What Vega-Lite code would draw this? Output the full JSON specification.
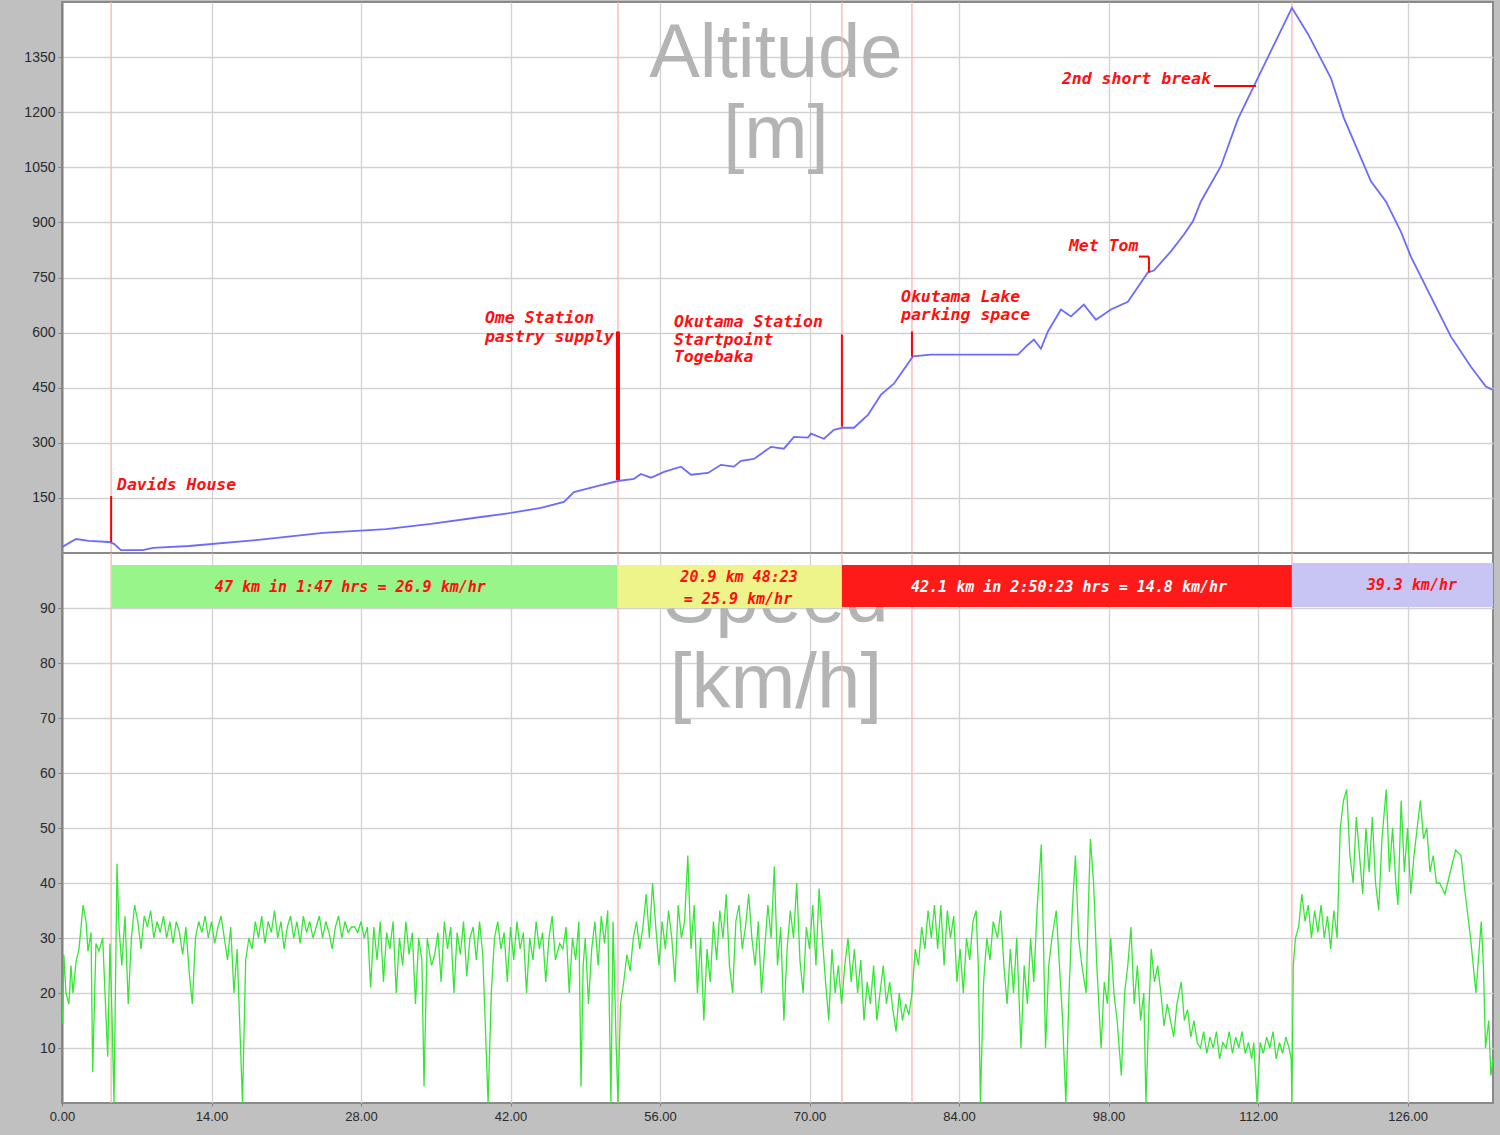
{
  "$schema": "https://vega.github.io/schema/vega-lite/v6.json",
  "background": "#c0c0c0",
  "padding": {"left": 0, "top": 0, "right": 8, "bottom": 0},
  "spacing": 0,
  "bounds": "flush",
  "config": {
    "view": {"fill": "#ffffff", "stroke": "#8a8a8a", "strokeWidth": 2},
    "axis": {"gridColor": "#d2d2d2", "gridWidth": 1.3, "gridOpacity": 1, "domainColor": "#808080", "domainWidth": 2, "tickColor": "#808080", "labelColor": "#2a2a2a", "labelFont": "Liberation Sans", "labelFlush": false, "title": null}
  },
  "datasets": {
    "alt": [
      {"km": 0, "alt": 16}, {"km": 1.31, "alt": 38}, {"km": 2.53, "alt": 33}, {"km": 4.4, "alt": 30}, {"km": 4.87, "alt": 25},
      {"km": 5.52, "alt": 8}, {"km": 7.58, "alt": 8}, {"km": 8.52, "alt": 14}, {"km": 11.89, "alt": 19}, {"km": 18.16, "alt": 35},
      {"km": 24.44, "alt": 55}, {"km": 30.34, "alt": 65}, {"km": 34.55, "alt": 79}, {"km": 39.23, "alt": 98}, {"km": 42.04, "alt": 109},
      {"km": 44.85, "alt": 123}, {"km": 47.0, "alt": 139}, {"km": 47.94, "alt": 166}, {"km": 50.19, "alt": 183}, {"km": 52.06, "alt": 196},
      {"km": 53.56, "alt": 202}, {"km": 54.21, "alt": 215}, {"km": 55.15, "alt": 205}, {"km": 56.37, "alt": 221}, {"km": 57.96, "alt": 235},
      {"km": 58.9, "alt": 213}, {"km": 60.49, "alt": 218}, {"km": 61.7, "alt": 240}, {"km": 62.92, "alt": 235}, {"km": 63.58, "alt": 251},
      {"km": 64.79, "alt": 256}, {"km": 66.39, "alt": 289}, {"km": 67.6, "alt": 284}, {"km": 68.54, "alt": 316}, {"km": 69.85, "alt": 314},
      {"km": 70.13, "alt": 325}, {"km": 71.35, "alt": 311}, {"km": 72.28, "alt": 335}, {"km": 73.13, "alt": 341}, {"km": 74.16, "alt": 341},
      {"km": 75.47, "alt": 376}, {"km": 76.69, "alt": 431}, {"km": 77.9, "alt": 461}, {"km": 79.68, "alt": 535}, {"km": 81.37, "alt": 540},
      {"km": 89.51, "alt": 540}, {"km": 90.45, "alt": 567}, {"km": 91.01, "alt": 581}, {"km": 91.67, "alt": 556}, {"km": 92.32, "alt": 603},
      {"km": 93.54, "alt": 663}, {"km": 94.48, "alt": 644}, {"km": 95.69, "alt": 676}, {"km": 96.82, "alt": 635}, {"km": 98.22, "alt": 663},
      {"km": 99.81, "alt": 684}, {"km": 101.69, "alt": 764}, {"km": 102.25, "alt": 769}, {"km": 103.84, "alt": 821}, {"km": 105.06, "alt": 867},
      {"km": 105.9, "alt": 903}, {"km": 106.65, "alt": 957}, {"km": 108.52, "alt": 1053}, {"km": 110.11, "alt": 1181}, {"km": 111.61, "alt": 1271},
      {"km": 113.2, "alt": 1366}, {"km": 115.17, "alt": 1484}, {"km": 116.67, "alt": 1413}, {"km": 118.82, "alt": 1293}, {"km": 120.04, "alt": 1184},
      {"km": 122.57, "alt": 1012}, {"km": 123.97, "alt": 957}, {"km": 125.37, "alt": 875}, {"km": 126.31, "alt": 807}, {"km": 128.18, "alt": 698},
      {"km": 130.06, "alt": 589}, {"km": 131.93, "alt": 507}, {"km": 133.33, "alt": 453}, {"km": 133.99, "alt": 444}
    ],
    "speed": [
      {"km": 0.07, "speed": 14.5}, {"km": 0.17, "speed": 27}, {"km": 0.37, "speed": 20}, {"km": 0.65, "speed": 18}, {"km": 0.84, "speed": 25},
      {"km": 1.03, "speed": 20}, {"km": 1.31, "speed": 25.6}, {"km": 1.59, "speed": 28}, {"km": 1.97, "speed": 36}, {"km": 2.25, "speed": 33},
      {"km": 2.43, "speed": 27.6}, {"km": 2.72, "speed": 31}, {"km": 2.87, "speed": 5.6}, {"km": 3.18, "speed": 29}, {"km": 3.46, "speed": 27.6},
      {"km": 3.81, "speed": 30}, {"km": 4.28, "speed": 8.4}, {"km": 4.49, "speed": 29}, {"km": 4.68, "speed": 16}, {"km": 4.87, "speed": 0},
      {"km": 5.15, "speed": 43.5}, {"km": 5.34, "speed": 32}, {"km": 5.6, "speed": 25}, {"km": 5.9, "speed": 34}, {"km": 6.2, "speed": 18},
      {"km": 6.5, "speed": 30}, {"km": 6.8, "speed": 36}, {"km": 7.1, "speed": 33}, {"km": 7.4, "speed": 28}, {"km": 7.7, "speed": 34},
      {"km": 8.0, "speed": 32}, {"km": 8.3, "speed": 35}, {"km": 8.6, "speed": 30}, {"km": 8.9, "speed": 33}, {"km": 9.2, "speed": 31},
      {"km": 9.5, "speed": 34}, {"km": 9.8, "speed": 30}, {"km": 10.1, "speed": 33}, {"km": 10.4, "speed": 29}, {"km": 10.7, "speed": 33},
      {"km": 11.0, "speed": 31}, {"km": 11.3, "speed": 27}, {"km": 11.6, "speed": 32}, {"km": 11.9, "speed": 24}, {"km": 12.2, "speed": 18},
      {"km": 12.5, "speed": 30}, {"km": 12.8, "speed": 33}, {"km": 13.1, "speed": 31}, {"km": 13.4, "speed": 34}, {"km": 13.7, "speed": 30},
      {"km": 14.0, "speed": 33}, {"km": 14.3, "speed": 29}, {"km": 14.6, "speed": 32}, {"km": 14.9, "speed": 34}, {"km": 15.2, "speed": 30},
      {"km": 15.5, "speed": 26}, {"km": 15.8, "speed": 32}, {"km": 16.1, "speed": 20}, {"km": 16.4, "speed": 28}, {"km": 16.9, "speed": 0},
      {"km": 17.2, "speed": 26}, {"km": 17.5, "speed": 30}, {"km": 17.8, "speed": 28}, {"km": 18.1, "speed": 33}, {"km": 18.4, "speed": 30},
      {"km": 18.7, "speed": 34}, {"km": 19.0, "speed": 29}, {"km": 19.3, "speed": 33}, {"km": 19.6, "speed": 31}, {"km": 19.9, "speed": 35},
      {"km": 20.2, "speed": 30}, {"km": 20.5, "speed": 33}, {"km": 20.8, "speed": 28}, {"km": 21.1, "speed": 32}, {"km": 21.4, "speed": 34},
      {"km": 21.7, "speed": 30}, {"km": 22.0, "speed": 33}, {"km": 22.3, "speed": 29}, {"km": 22.6, "speed": 34}, {"km": 22.9, "speed": 31},
      {"km": 23.2, "speed": 33}, {"km": 23.5, "speed": 30}, {"km": 23.8, "speed": 32}, {"km": 24.1, "speed": 34}, {"km": 24.4, "speed": 30},
      {"km": 24.7, "speed": 33}, {"km": 25.0, "speed": 31}, {"km": 25.3, "speed": 28}, {"km": 25.6, "speed": 32}, {"km": 25.9, "speed": 34},
      {"km": 26.2, "speed": 30}, {"km": 26.5, "speed": 33}, {"km": 26.8, "speed": 31}, {"km": 27.1, "speed": 32}, {"km": 27.4, "speed": 32},
      {"km": 27.7, "speed": 31}, {"km": 28.0, "speed": 33}, {"km": 28.3, "speed": 30}, {"km": 28.6, "speed": 32}, {"km": 28.9, "speed": 21},
      {"km": 29.2, "speed": 32}, {"km": 29.5, "speed": 26}, {"km": 29.8, "speed": 33}, {"km": 30.1, "speed": 22}, {"km": 30.4, "speed": 31},
      {"km": 30.7, "speed": 28}, {"km": 31.0, "speed": 33}, {"km": 31.3, "speed": 20}, {"km": 31.6, "speed": 30}, {"km": 31.9, "speed": 25},
      {"km": 32.2, "speed": 33}, {"km": 32.5, "speed": 27}, {"km": 32.8, "speed": 31}, {"km": 33.1, "speed": 18}, {"km": 33.4, "speed": 30},
      {"km": 33.7, "speed": 26}, {"km": 33.9, "speed": 3}, {"km": 34.2, "speed": 30}, {"km": 34.6, "speed": 25}, {"km": 34.9, "speed": 27},
      {"km": 35.2, "speed": 31}, {"km": 35.5, "speed": 22}, {"km": 35.8, "speed": 33}, {"km": 36.1, "speed": 28}, {"km": 36.4, "speed": 32},
      {"km": 36.7, "speed": 20}, {"km": 37.0, "speed": 31}, {"km": 37.3, "speed": 27}, {"km": 37.6, "speed": 33}, {"km": 37.9, "speed": 23},
      {"km": 38.2, "speed": 30}, {"km": 38.5, "speed": 32}, {"km": 38.8, "speed": 26}, {"km": 39.1, "speed": 33}, {"km": 39.4, "speed": 27},
      {"km": 39.9, "speed": 0}, {"km": 40.2, "speed": 20}, {"km": 40.5, "speed": 30}, {"km": 40.8, "speed": 33}, {"km": 41.1, "speed": 28},
      {"km": 41.4, "speed": 31}, {"km": 41.7, "speed": 22}, {"km": 42.0, "speed": 32}, {"km": 42.3, "speed": 26}, {"km": 42.6, "speed": 33},
      {"km": 42.9, "speed": 28}, {"km": 43.2, "speed": 31}, {"km": 43.5, "speed": 20}, {"km": 43.8, "speed": 30}, {"km": 44.1, "speed": 26},
      {"km": 44.4, "speed": 33}, {"km": 44.7, "speed": 28}, {"km": 45.0, "speed": 31}, {"km": 45.3, "speed": 22}, {"km": 45.6, "speed": 30},
      {"km": 45.9, "speed": 34}, {"km": 46.2, "speed": 26}, {"km": 46.6, "speed": 29}, {"km": 46.9, "speed": 28}, {"km": 47.2, "speed": 32},
      {"km": 47.5, "speed": 20}, {"km": 47.8, "speed": 30}, {"km": 48.1, "speed": 26}, {"km": 48.4, "speed": 33}, {"km": 48.6, "speed": 3},
      {"km": 48.8, "speed": 25}, {"km": 49.0, "speed": 30}, {"km": 49.3, "speed": 18}, {"km": 49.6, "speed": 28}, {"km": 49.9, "speed": 33},
      {"km": 50.2, "speed": 25}, {"km": 50.5, "speed": 34}, {"km": 50.8, "speed": 29}, {"km": 51.1, "speed": 35}, {"km": 51.4, "speed": 0},
      {"km": 51.6, "speed": 33}, {"km": 51.9, "speed": 10}, {"km": 52.06, "speed": 0},
      {"km": 52.3, "speed": 18}, {"km": 52.6, "speed": 22}, {"km": 52.9, "speed": 27}, {"km": 53.2, "speed": 24}, {"km": 53.5, "speed": 30},
      {"km": 53.8, "speed": 33}, {"km": 54.1, "speed": 28}, {"km": 54.4, "speed": 32}, {"km": 54.7, "speed": 38}, {"km": 55.0, "speed": 30},
      {"km": 55.3, "speed": 40}, {"km": 55.6, "speed": 32}, {"km": 55.9, "speed": 25}, {"km": 56.2, "speed": 33}, {"km": 56.5, "speed": 28},
      {"km": 56.8, "speed": 35}, {"km": 57.1, "speed": 30}, {"km": 57.4, "speed": 22}, {"km": 57.7, "speed": 36}, {"km": 58.0, "speed": 30},
      {"km": 58.3, "speed": 33}, {"km": 58.6, "speed": 45}, {"km": 58.9, "speed": 28}, {"km": 59.2, "speed": 36}, {"km": 59.5, "speed": 20},
      {"km": 59.8, "speed": 30}, {"km": 60.1, "speed": 15}, {"km": 60.4, "speed": 28}, {"km": 60.7, "speed": 22}, {"km": 61.0, "speed": 33},
      {"km": 61.3, "speed": 26}, {"km": 61.6, "speed": 35}, {"km": 61.9, "speed": 30}, {"km": 62.2, "speed": 38}, {"km": 62.5, "speed": 25},
      {"km": 62.8, "speed": 20}, {"km": 63.1, "speed": 33}, {"km": 63.4, "speed": 36}, {"km": 63.7, "speed": 28}, {"km": 64.0, "speed": 32},
      {"km": 64.3, "speed": 38}, {"km": 64.6, "speed": 30}, {"km": 64.9, "speed": 25}, {"km": 65.2, "speed": 33}, {"km": 65.5, "speed": 20},
      {"km": 65.8, "speed": 28}, {"km": 66.1, "speed": 36}, {"km": 66.4, "speed": 30}, {"km": 66.7, "speed": 43}, {"km": 67.0, "speed": 25},
      {"km": 67.3, "speed": 32}, {"km": 67.6, "speed": 15}, {"km": 67.9, "speed": 28}, {"km": 68.2, "speed": 35}, {"km": 68.5, "speed": 30},
      {"km": 68.8, "speed": 40}, {"km": 69.1, "speed": 26}, {"km": 69.4, "speed": 20}, {"km": 69.7, "speed": 32}, {"km": 70.0, "speed": 28},
      {"km": 70.3, "speed": 36}, {"km": 70.6, "speed": 25}, {"km": 70.9, "speed": 39}, {"km": 71.2, "speed": 30}, {"km": 71.5, "speed": 22},
      {"km": 71.8, "speed": 15}, {"km": 72.1, "speed": 28}, {"km": 72.4, "speed": 20}, {"km": 72.7, "speed": 25}, {"km": 73.0, "speed": 18},
      {"km": 73.3, "speed": 25}, {"km": 73.6, "speed": 30}, {"km": 73.9, "speed": 22}, {"km": 74.2, "speed": 28}, {"km": 74.5, "speed": 20},
      {"km": 74.8, "speed": 26}, {"km": 75.1, "speed": 15}, {"km": 75.4, "speed": 22}, {"km": 75.7, "speed": 18}, {"km": 76.0, "speed": 25},
      {"km": 76.3, "speed": 15}, {"km": 76.6, "speed": 20}, {"km": 76.9, "speed": 25}, {"km": 77.2, "speed": 18}, {"km": 77.5, "speed": 22},
      {"km": 77.8, "speed": 17}, {"km": 78.1, "speed": 13}, {"km": 78.4, "speed": 20}, {"km": 78.7, "speed": 15}, {"km": 79.0, "speed": 18},
      {"km": 79.3, "speed": 16}, {"km": 79.6, "speed": 20}, {"km": 79.9, "speed": 28}, {"km": 80.2, "speed": 25}, {"km": 80.5, "speed": 32},
      {"km": 80.8, "speed": 28}, {"km": 81.1, "speed": 35}, {"km": 81.4, "speed": 30}, {"km": 81.7, "speed": 36}, {"km": 82.0, "speed": 28},
      {"km": 82.3, "speed": 36}, {"km": 82.6, "speed": 25}, {"km": 82.9, "speed": 35}, {"km": 83.2, "speed": 30}, {"km": 83.5, "speed": 34},
      {"km": 83.8, "speed": 22}, {"km": 84.1, "speed": 28}, {"km": 84.4, "speed": 20}, {"km": 84.7, "speed": 30}, {"km": 85.0, "speed": 26},
      {"km": 85.3, "speed": 33}, {"km": 85.6, "speed": 35}, {"km": 85.8, "speed": 25}, {"km": 86.0, "speed": 0}, {"km": 86.3, "speed": 22},
      {"km": 86.6, "speed": 30}, {"km": 86.9, "speed": 26}, {"km": 87.2, "speed": 33}, {"km": 87.6, "speed": 30}, {"km": 87.9, "speed": 35},
      {"km": 88.2, "speed": 25}, {"km": 88.5, "speed": 18}, {"km": 88.8, "speed": 28}, {"km": 89.1, "speed": 20}, {"km": 89.4, "speed": 30},
      {"km": 89.8, "speed": 10}, {"km": 90.1, "speed": 25}, {"km": 90.4, "speed": 18}, {"km": 90.7, "speed": 30}, {"km": 91.0, "speed": 22},
      {"km": 91.3, "speed": 35}, {"km": 91.7, "speed": 47}, {"km": 91.9, "speed": 30}, {"km": 92.1, "speed": 10}, {"km": 92.4, "speed": 25},
      {"km": 92.7, "speed": 30}, {"km": 93.1, "speed": 35}, {"km": 93.4, "speed": 25}, {"km": 93.7, "speed": 15}, {"km": 94.0, "speed": 0},
      {"km": 94.3, "speed": 20}, {"km": 94.6, "speed": 35}, {"km": 94.9, "speed": 45}, {"km": 95.2, "speed": 30}, {"km": 95.5, "speed": 25},
      {"km": 95.9, "speed": 20}, {"km": 96.1, "speed": 35}, {"km": 96.3, "speed": 48}, {"km": 96.6, "speed": 40}, {"km": 96.9, "speed": 25},
      {"km": 97.3, "speed": 10}, {"km": 97.6, "speed": 22}, {"km": 97.9, "speed": 18}, {"km": 98.2, "speed": 30}, {"km": 98.5, "speed": 20},
      {"km": 98.8, "speed": 15}, {"km": 99.2, "speed": 5}, {"km": 99.5, "speed": 20}, {"km": 99.8, "speed": 25}, {"km": 100.1, "speed": 32},
      {"km": 100.4, "speed": 18}, {"km": 100.7, "speed": 25}, {"km": 101.0, "speed": 15}, {"km": 101.3, "speed": 20}, {"km": 101.5, "speed": 0},
      {"km": 101.8, "speed": 18}, {"km": 102.0, "speed": 28}, {"km": 102.3, "speed": 22}, {"km": 102.6, "speed": 25}, {"km": 102.9, "speed": 20},
      {"km": 103.2, "speed": 14}, {"km": 103.5, "speed": 18}, {"km": 103.8, "speed": 15}, {"km": 104.1, "speed": 12}, {"km": 104.4, "speed": 18},
      {"km": 104.8, "speed": 22}, {"km": 105.1, "speed": 15}, {"km": 105.4, "speed": 17}, {"km": 105.7, "speed": 12}, {"km": 106.0, "speed": 15},
      {"km": 106.3, "speed": 11}, {"km": 106.6, "speed": 10}, {"km": 106.9, "speed": 13}, {"km": 107.2, "speed": 9}, {"km": 107.5, "speed": 12},
      {"km": 107.8, "speed": 10}, {"km": 108.1, "speed": 13}, {"km": 108.4, "speed": 8}, {"km": 108.7, "speed": 11}, {"km": 109.0, "speed": 10},
      {"km": 109.3, "speed": 13}, {"km": 109.6, "speed": 9}, {"km": 109.9, "speed": 12}, {"km": 110.2, "speed": 10}, {"km": 110.5, "speed": 13},
      {"km": 110.8, "speed": 9}, {"km": 111.1, "speed": 11}, {"km": 111.4, "speed": 8}, {"km": 111.6, "speed": 11}, {"km": 111.9, "speed": 0},
      {"km": 112.2, "speed": 11}, {"km": 112.5, "speed": 9}, {"km": 112.8, "speed": 12}, {"km": 113.1, "speed": 10}, {"km": 113.4, "speed": 13},
      {"km": 113.7, "speed": 8}, {"km": 114.0, "speed": 11}, {"km": 114.3, "speed": 9}, {"km": 114.6, "speed": 12}, {"km": 114.9, "speed": 10},
      {"km": 115.1, "speed": 8}, {"km": 115.17, "speed": 0}, {"km": 115.3, "speed": 25}, {"km": 115.5, "speed": 30}, {"km": 115.8, "speed": 32},
      {"km": 116.1, "speed": 38}, {"km": 116.4, "speed": 33}, {"km": 116.7, "speed": 36}, {"km": 117.0, "speed": 30}, {"km": 117.3, "speed": 35},
      {"km": 117.6, "speed": 31}, {"km": 117.9, "speed": 36}, {"km": 118.2, "speed": 30}, {"km": 118.5, "speed": 34}, {"km": 118.8, "speed": 28},
      {"km": 119.1, "speed": 35}, {"km": 119.4, "speed": 30}, {"km": 119.7, "speed": 50}, {"km": 120.0, "speed": 55}, {"km": 120.3, "speed": 57},
      {"km": 120.6, "speed": 45}, {"km": 120.9, "speed": 40}, {"km": 121.2, "speed": 52}, {"km": 121.5, "speed": 45}, {"km": 121.8, "speed": 38},
      {"km": 122.1, "speed": 50}, {"km": 122.4, "speed": 42}, {"km": 122.7, "speed": 52}, {"km": 123.0, "speed": 40}, {"km": 123.3, "speed": 35},
      {"km": 123.6, "speed": 48}, {"km": 124.0, "speed": 57}, {"km": 124.3, "speed": 42}, {"km": 124.6, "speed": 50}, {"km": 124.9, "speed": 40},
      {"km": 125.1, "speed": 36}, {"km": 125.4, "speed": 55}, {"km": 125.7, "speed": 42}, {"km": 126.0, "speed": 50}, {"km": 126.3, "speed": 38},
      {"km": 126.6, "speed": 45}, {"km": 126.9, "speed": 50}, {"km": 127.2, "speed": 55}, {"km": 127.5, "speed": 48}, {"km": 127.8, "speed": 50},
      {"km": 128.1, "speed": 42}, {"km": 128.4, "speed": 45}, {"km": 128.7, "speed": 40}, {"km": 129.0, "speed": 40}, {"km": 129.5, "speed": 38},
      {"km": 130.0, "speed": 42}, {"km": 130.5, "speed": 46}, {"km": 131.0, "speed": 45}, {"km": 131.4, "speed": 38}, {"km": 131.9, "speed": 30},
      {"km": 132.4, "speed": 20}, {"km": 132.9, "speed": 33}, {"km": 133.1, "speed": 25}, {"km": 133.3, "speed": 10}, {"km": 133.6, "speed": 15},
      {"km": 133.8, "speed": 5}, {"km": 134.0, "speed": 8}
    ],
    "guides": [{"km": 4.6}, {"km": 52.06}, {"km": 73.03}, {"km": 79.59}, {"km": 115.17}],
    "pins": [
      {"km": 4.6, "km2": 4.6, "a1": 30, "a2": 155},
      {"km": 73.03, "km2": 73.03, "a1": 344, "a2": 595},
      {"km": 79.59, "km2": 79.59, "a1": 535, "a2": 603},
      {"km": 100.84, "km2": 101.78, "a1": 807, "a2": 807},
      {"km": 101.78, "km2": 101.78, "a1": 807, "a2": 764},
      {"km": 107.87, "km2": 111.8, "a1": 1271, "a2": 1271}
    ],
    "omePin": [{"km": 52.06, "a1": 199, "a2": 603}],
    "altLabels": [
      {"km": 5.15, "alt": 172, "label": "Davids House"},
      {"km": 39.6, "alt": 627, "label": "Ome Station"},
      {"km": 39.6, "alt": 575, "label": "pastry supply"},
      {"km": 57.3, "alt": 616, "label": "Okutama Station"},
      {"km": 57.3, "alt": 567, "label": "Startpoint"},
      {"km": 57.3, "alt": 521, "label": "Togebaka"},
      {"km": 78.56, "alt": 682, "label": "Okutama Lake"},
      {"km": 78.56, "alt": 633, "label": "parking space"},
      {"km": 94.29, "alt": 821, "label": "Met Tom"},
      {"km": 93.63, "alt": 1276, "label": "2nd short break"}
    ],
    "wmTop": [{"km": 66.85, "alt": 1295, "label": "Altitude"}, {"km": 66.85, "alt": 1075, "label": "[m]"}],
    "wmBottom": [{"km": 66.85, "speed": 87.5, "label": "Speed"}, {"km": 66.85, "speed": 71.8, "label": "[km/h]"}],
    "bars": [
      {"seg": "g", "km1": 4.68, "km2": 51.97, "s1": 90, "s2": 97.8},
      {"seg": "y", "km1": 51.97, "km2": 73.03, "s1": 90, "s2": 97.8},
      {"seg": "r", "km1": 73.03, "km2": 115.17, "s1": 90.2, "s2": 97.8},
      {"seg": "p", "km1": 115.17, "km2": 134, "s1": 90.2, "s2": 98.2}
    ],
    "barLabelsRed": [
      {"km": 27.0, "speed": 93.8, "label": "47 km in 1:47 hrs = 26.9 km/hr"},
      {"km": 63.4, "speed": 95.7, "label": "20.9 km 48:23"},
      {"km": 63.3, "speed": 91.7, "label": "= 25.9 km/hr"},
      {"km": 126.4, "speed": 94.2, "label": "39.3 km/hr"}
    ],
    "barLabelsWhite": [
      {"km": 94.3, "speed": 93.8, "label": "42.1 km in 2:50:23 hrs = 14.8 km/hr"}
    ]
  },
  "vconcat": [
    {
      "width": 1431,
      "height": 551,
      "layer": [
        {
          "data": {"name": "wmTop"},
          "mark": {"type": "text", "font": "Liberation Sans", "fontSize": 76, "color": "#b4b4b4", "align": "center", "baseline": "alphabetic"},
          "encoding": {
            "x": {"field": "km", "type": "quantitative", "scale": {"domain": [0, 134], "nice": false, "zero": false},
                  "axis": {"grid": true, "labels": false, "ticks": false, "domain": false, "values": [0, 14, 28, 42, 56, 70, 84, 98, 112, 126], "minExtent": 0, "maxExtent": 0}},
            "y": {"field": "alt", "type": "quantitative", "scale": {"domain": [0, 1500], "nice": false},
                  "axis": {"grid": true, "values": [150, 300, 450, 600, 750, 900, 1050, 1200, 1350], "format": "d", "tickSize": 4, "labelPadding": 3, "labelFontSize": 14, "minExtent": 61, "maxExtent": 61}},
            "text": {"field": "label"}
          }
        },
        {
          "data": {"name": "guides"},
          "mark": {"type": "rule", "color": "#ffb2b2", "strokeWidth": 1.3},
          "encoding": {"x": {"field": "km", "type": "quantitative", "scale": {"domain": [0, 134], "nice": false, "zero": false}}}
        },
        {
          "data": {"name": "alt"},
          "mark": {"type": "line", "color": "#6b6bff", "strokeWidth": 1.8},
          "encoding": {
            "x": {"field": "km", "type": "quantitative", "scale": {"domain": [0, 134], "nice": false, "zero": false}},
            "y": {"field": "alt", "type": "quantitative", "scale": {"domain": [0, 1500], "nice": false}}
          }
        },
        {
          "data": {"name": "pins"},
          "mark": {"type": "rule", "color": "#ff0000", "strokeWidth": 2},
          "encoding": {
            "x": {"field": "km", "type": "quantitative", "scale": {"domain": [0, 134], "nice": false, "zero": false}},
            "x2": {"field": "km2"},
            "y": {"field": "a1", "type": "quantitative", "scale": {"domain": [0, 1500], "nice": false}},
            "y2": {"field": "a2"}
          }
        },
        {
          "data": {"name": "omePin"},
          "mark": {"type": "rule", "color": "#ff0000", "strokeWidth": 4},
          "encoding": {
            "x": {"field": "km", "type": "quantitative", "scale": {"domain": [0, 134], "nice": false, "zero": false}},
            "y": {"field": "a1", "type": "quantitative", "scale": {"domain": [0, 1500], "nice": false}},
            "y2": {"field": "a2"}
          }
        },
        {
          "data": {"name": "altLabels"},
          "mark": {"type": "text", "font": "DejaVu Sans Mono", "fontStyle": "italic", "fontWeight": "bold", "fontSize": 16.5, "color": "#ff1010", "align": "left", "baseline": "alphabetic"},
          "encoding": {
            "x": {"field": "km", "type": "quantitative", "scale": {"domain": [0, 134], "nice": false, "zero": false}},
            "y": {"field": "alt", "type": "quantitative", "scale": {"domain": [0, 1500], "nice": false}},
            "text": {"field": "label"}
          }
        }
      ]
    },
    {
      "width": 1431,
      "height": 550,
      "layer": [
        {
          "data": {"name": "wmBottom"},
          "mark": {"type": "text", "font": "Liberation Sans", "fontSize": 78, "color": "#b4b4b4", "align": "center", "baseline": "alphabetic"},
          "encoding": {
            "x": {"field": "km", "type": "quantitative", "scale": {"domain": [0, 134], "nice": false, "zero": false},
                  "axis": {"grid": true, "values": [0, 14, 28, 42, 56, 70, 84, 98, 112, 126], "format": ".2f", "tickSize": 3, "labelPadding": 4, "labelFontSize": 13, "domain": false, "minExtent": 34, "maxExtent": 34}},
            "y": {"field": "speed", "type": "quantitative", "scale": {"domain": [0, 100], "nice": false},
                  "axis": {"grid": true, "values": [10, 20, 30, 40, 50, 60, 70, 80, 90], "format": "d", "tickSize": 4, "labelPadding": 3, "labelFontSize": 14, "minExtent": 61, "maxExtent": 61}},
            "text": {"field": "label"}
          }
        },
        {
          "data": {"name": "guides"},
          "mark": {"type": "rule", "color": "#ffb2b2", "strokeWidth": 1.3},
          "encoding": {"x": {"field": "km", "type": "quantitative", "scale": {"domain": [0, 134], "nice": false, "zero": false}}}
        },
        {
          "data": {"name": "speed"},
          "mark": {"type": "line", "color": "#36e636", "strokeWidth": 1.3},
          "encoding": {
            "x": {"field": "km", "type": "quantitative", "scale": {"domain": [0, 134], "nice": false, "zero": false}},
            "y": {"field": "speed", "type": "quantitative", "scale": {"domain": [0, 100], "nice": false}}
          }
        },
        {
          "data": {"name": "bars"},
          "mark": {"type": "rect"},
          "encoding": {
            "x": {"field": "km1", "type": "quantitative", "scale": {"domain": [0, 134], "nice": false, "zero": false}},
            "x2": {"field": "km2"},
            "y": {"field": "s1", "type": "quantitative", "scale": {"domain": [0, 100], "nice": false}},
            "y2": {"field": "s2"},
            "color": {"field": "seg", "type": "nominal", "scale": {"domain": ["g", "y", "r", "p"], "range": ["#98f58a", "#eef38a", "#ff1a1a", "#c8c4f4"]}, "legend": null}
          }
        },
        {
          "data": {"name": "barLabelsRed"},
          "mark": {"type": "text", "font": "DejaVu Sans Mono", "fontStyle": "italic", "fontWeight": "bold", "fontSize": 15, "color": "#ff1010", "align": "center", "baseline": "middle"},
          "encoding": {
            "x": {"field": "km", "type": "quantitative", "scale": {"domain": [0, 134], "nice": false, "zero": false}},
            "y": {"field": "speed", "type": "quantitative", "scale": {"domain": [0, 100], "nice": false}},
            "text": {"field": "label"}
          }
        },
        {
          "data": {"name": "barLabelsWhite"},
          "mark": {"type": "text", "font": "DejaVu Sans Mono", "fontStyle": "italic", "fontWeight": "bold", "fontSize": 15, "color": "#ffffff", "align": "center", "baseline": "middle"},
          "encoding": {
            "x": {"field": "km", "type": "quantitative", "scale": {"domain": [0, 134], "nice": false, "zero": false}},
            "y": {"field": "speed", "type": "quantitative", "scale": {"domain": [0, 100], "nice": false}},
            "text": {"field": "label"}
          }
        }
      ]
    }
  ]
}
